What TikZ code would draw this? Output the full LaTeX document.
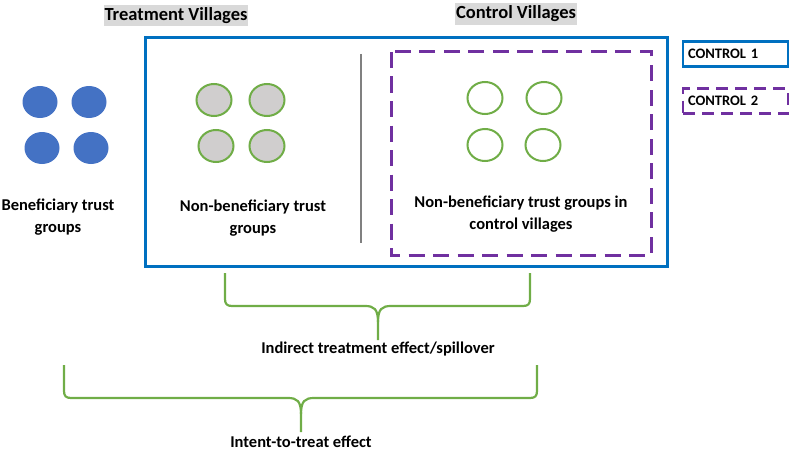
\documentclass[tikz,border=0pt]{standalone}
\usepackage{fontspec}
\setmainfont{Carlito}
\usetikzlibrary{positioning,shapes.geometric}

\definecolor{ctrlblue}{HTML}{0070C0}
\definecolor{ctrlpurple}{HTML}{7030A0}
\definecolor{groupblue}{HTML}{4472C4}
\definecolor{groupgreen}{HTML}{70AD47}
\definecolor{groupgray}{HTML}{D0CECE}
\definecolor{titlegray}{HTML}{D9D9D9}

\tikzset{
  group/.style = {ellipse, minimum width = 35pt, minimum height = 32pt, inner sep = 0pt},
  beneficiary/.style = {group, fill = groupblue},
  nonbeneficiary/.style = {group, draw = groupgreen, line width = 2pt, fill = groupgray},
  controlgroup/.style = {group, draw = groupgreen, line width = 2pt},
  label/.style = {font = \fontsize{16.5}{21.5}\selectfont\bfseries, align = center, inner sep = 0pt},
  title/.style = {font = \fontsize{18.5}{21}\selectfont\bfseries, fill = titlegray, inner xsep = 1pt, inner ysep = 2.5pt},
  legend/.style = {font = \fontsize{14.5}{17}\selectfont\bfseries, minimum width = 105pt, minimum height = 25pt, text width = 95pt, align = left, line width = 2.5pt},
  bracket/.style = {draw = groupgreen, line width = 2.2pt, line join = round}
}

\begin{document}
\begin{tikzpicture}[x = 1pt, y = -1pt]
  \useasboundingbox (0,0) rectangle (790,452);

  % Frames
  \draw[ctrlblue, line width = 3pt] (145,38) rectangle (667,266);
  \draw[ctrlpurple, line width = 3pt, dash pattern = on 16pt off 8.5pt] (391,52) rectangle (651,255);
  \coordinate (split_top) at (361,54);
  \coordinate (split_bot) at (361,243);
  \draw[gray, line width = 2.5pt] (split_top) -- (split_bot);

  % Titles
  \node[title] (treat_title) at (176,15.5) {Treatment Villages};
  \node[title] (ctrl_title) at (516,14) {Control Villages};

  % Legend
  \node[legend, draw = ctrlblue] (ctrl1) at (735.5,54) {CONTROL 1};
  \node[legend, draw = ctrlpurple, dash pattern = on 12pt off 7pt] (ctrl2) at (735.5,101) {CONTROL 2};

  % Beneficiary groups
  \node[beneficiary] (ben1) at (40,102) {};
  \node[beneficiary] (ben2) at (89,102) {};
  \node[beneficiary] (ben3) at (42,148) {};
  \node[beneficiary] (ben4) at (91,148) {};
  \node[label] (ben_text) at (58,217) {Beneficiary trust\\groups};

  % Non-beneficiary groups, treatment villages
  \node[nonbeneficiary] (nb1) at (214,100) {};
  \node[nonbeneficiary] (nb2) at (267,100) {};
  \node[nonbeneficiary] (nb3) at (216,146) {};
  \node[nonbeneficiary] (nb4) at (267,146) {};
  \node[label] (nb_text) at (253,218) {Non-beneficiary trust\\groups};

  % Non-beneficiary groups, control villages
  \node[controlgroup] (cg1) at (485,98) {};
  \node[controlgroup] (cg2) at (544,98) {};
  \node[controlgroup] (cg3) at (485,145) {};
  \node[controlgroup] (cg4) at (543,145) {};
  \node[label] (cg_text) at (521,214) {Non-beneficiary trust groups in\\control villages};

  % Braces
  \draw[bracket] (225,273) -- (225,299) .. controls (225,304) and (227,306) .. (232,306)
    -- (365,306) .. controls (374,306) and (378,309) .. (378,322) -- (378,340);
  \draw[bracket] (530,273) -- (530,299) .. controls (530,304) and (528,306) .. (523,306)
    -- (391,306) .. controls (382,306) and (378,309) .. (378,322);
  \node[label] (spill_text) at (378,349) {Indirect treatment effect/spillover};

  \draw[bracket] (64,365) -- (64,391) .. controls (64,396) and (66,398) .. (71,398)
    -- (288,398) .. controls (297,398) and (301,401) .. (301,414) -- (301,432);
  \draw[bracket] (537,365) -- (537,391) .. controls (537,396) and (535,398) .. (530,398)
    -- (314,398) .. controls (305,398) and (301,401) .. (301,414);
  \node[label] (itt_text) at (301,442) {Intent-to-treat effect};
\end{tikzpicture}
\end{document}
